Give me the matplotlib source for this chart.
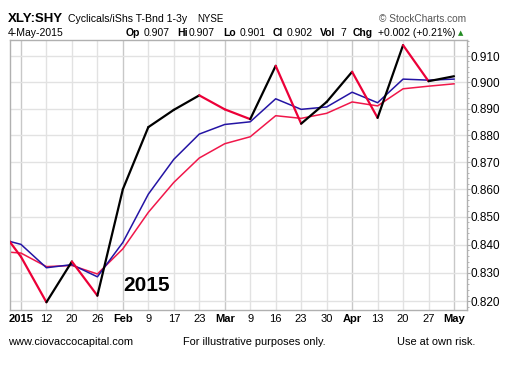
import matplotlib
matplotlib.use("Agg")
import matplotlib.pyplot as plt
import numpy as np

plt.rcParams['font.family'] = ['Liberation Sans', 'DejaVu Sans']

# weekly bars, index -1 is the partly hidden week before the first label
week_labels = ['2015', '12', '20', '26', 'Feb', '9', '17', '23', 'Mar', '9',
               '16', '23', '30', 'Apr', '13', '20', '27', 'May']
bold_labels = ['2015', 'Feb', 'Mar', 'Apr', 'May']
weeks = list(range(-1, len(week_labels)))

ratio = [0.8479, 0.8357, 0.8197, 0.8340, 0.8220, 0.8600, 0.8830, 0.8895,
         0.8950, 0.8897, 0.8860, 0.9063, 0.8843, 0.8925, 0.9040, 0.8865,
         0.9143, 0.9004, 0.9023]
ma_fast = [0.8425, 0.8401, 0.8318, 0.8329, 0.8286, 0.8408, 0.8582, 0.8710,
           0.8804, 0.8840, 0.8850, 0.8937, 0.8897, 0.8906, 0.8962, 0.8922,
           0.9012, 0.9008, 0.9012]
ma_slow = [0.8377, 0.8370, 0.8322, 0.8326, 0.8296, 0.8385, 0.8516, 0.8625,
           0.8715, 0.8768, 0.8794, 0.8873, 0.8863, 0.8882, 0.8925, 0.8910,
           0.8975, 0.8985, 0.8994]
y_ticks = [0.820, 0.830, 0.840, 0.850, 0.860, 0.870, 0.880, 0.890, 0.900, 0.910]

W, H = 510, 372
fig = plt.figure(figsize=(W / 100, H / 100), dpi=100)
ax = fig.add_axes([10 / W, 1 - 310 / H, 457 / W, 270 / H])

ax.set_yscale('log')
ax.set_ylim(0.817, 0.9163)
ax.set_xlim(-0.43, 17.51)

# grid
for i, lab in enumerate(week_labels):
    strong = lab in bold_labels
    ax.axvline(i, color='#c8c8c8' if strong else '#e2e2e2', lw=1.0, zorder=0)
for v in y_ticks:
    ax.axhline(v, color='#e2e2e2', lw=1.0, zorder=0)

ax.plot(weeks, ma_slow, color='#f0174a', lw=1.1, zorder=2)
ax.plot(weeks, ma_fast, color='#2414a4', lw=1.1, zorder=3)
# price line: black when rising, red when falling
for k in range(len(weeks) - 1):
    c = 'black' if ratio[k + 1] >= ratio[k] else '#ec0038'
    ax.plot(weeks[k:k + 2], ratio[k:k + 2], color=c, lw=1.6,
            solid_capstyle='round', zorder=4)

ax.yaxis.tick_right()
ax.set_yticks(y_ticks)
ax.set_yticklabels(['%.3f' % v for v in y_ticks])
ax.yaxis.set_minor_locator(matplotlib.ticker.FixedLocator(np.arange(0.818, 0.916, 0.002)))
ax.yaxis.set_minor_formatter(matplotlib.ticker.NullFormatter())
ax.tick_params(axis='y', which='major', labelsize=8.5, length=2, pad=0.5,
               color='#aaaaaa', labelcolor='black')
ax.tick_params(axis='y', which='minor', length=1.5, color='#aaaaaa')

ax.set_xticks(range(len(week_labels)))
ax.set_xticklabels(week_labels)
for t in ax.get_xticklabels():
    t.set_fontsize(8)
    if t.get_text() in bold_labels:
        t.set_fontweight('bold')
ax.tick_params(axis='x', length=0, pad=3)

for s in ax.spines.values():
    s.set_color('#b0b0b0')
    s.set_linewidth(1.0)

ax.text(4.0, 0.8255, '2015', fontsize=15, fontweight='bold', ha='left',
        va='center', zorder=5)

def ftext(x, y, s, **kw):
    fig.text(x / W, 1 - y / H, s, va='center', **kw)

ftext(8, 19, 'XLY:SHY', fontsize=9.5, fontweight='bold')
ftext(68, 19, 'Cyclicals/iShs T-Bnd 1-3y', fontsize=7.6)
ftext(197, 19, 'NYSE', fontsize=7)
ftext(466, 19, '\u00a9 StockCharts.com', fontsize=7.3, color='#555555', ha='right')
ftext(8, 33, '4-May-2015', fontsize=7.5)

row = [(126, 'Op', True), (144, '0.907', False), (177, 'Hi', True),
       (189, '0.907', False), (223, 'Lo', True), (240, '0.901', False),
       (273, 'Cl', True), (287, '0.902', False), (320, 'Vol', True),
       (340, '7', False), (353, 'Chg', True), (378, '+0.002 (+0.21%)', False)]
for x, s, b in row:
    ftext(x, 33, s, fontsize=7.5, fontweight='bold' if b else 'normal')
fig.text(461 / W, 1 - 33 / H, '\u25b2', fontsize=5, color='#228b22',
         ha='center', va='center', family='DejaVu Sans')

ftext(8, 342, 'www.ciovaccocapital.com', fontsize=7.9)
ftext(183, 342, 'For illustrative purposes only.', fontsize=7.9)
ftext(397, 342, 'Use at own risk.', fontsize=7.9)

fig.savefig('out.png', dpi=100)
